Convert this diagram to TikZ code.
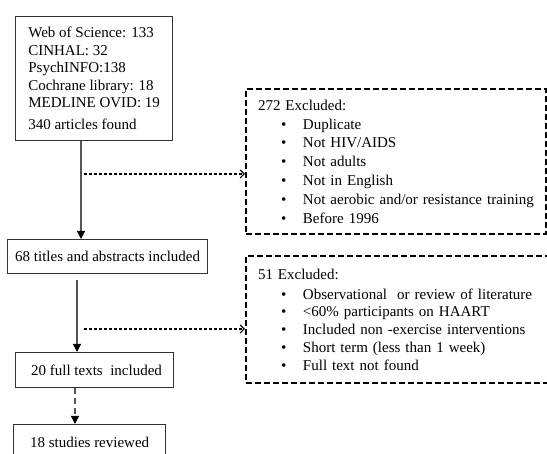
\documentclass[tikz,border=0pt]{standalone}
\usepackage{fontspec}
\setmainfont{Liberation Serif}
\usetikzlibrary{arrows.meta, positioning}
\definecolor{boxline}{HTML}{333333}
\definecolor{trunkline}{HTML}{555555}
\tikzset{
  stage/.style={rectangle, draw=boxline, line width=1.3pt, align=center,
                inner sep=0pt, anchor=north west, font=\fontsize{15}{17.5}\selectfont},
  excl/.style={rectangle, draw=black, line width=2pt, dash pattern=on 6pt off 3pt,
               align=left, inner xsep=12pt, inner ysep=0pt, anchor=north west},
  flow/.style={-{Triangle[length=8pt, width=8pt, color=black]}, line width=1.2pt, draw=trunkline},
  side/.style={-{Straight Barb[length=4pt, width=8pt]}, line width=1.1pt, draw=black,
               dash pattern=on 3pt off 2pt},
}
\newcommand{\itm}[1]{\hspace*{23pt}\makebox[22pt][l]{\textbullet}#1}

\begin{document}
\begin{tikzpicture}[x=1pt, y=-1pt]
\useasboundingbox (0,0) rectangle (547,454);
\clip (0,0) rectangle (547,454);

% Search results
\node[stage, align=left, minimum width=157pt, minimum height=124pt]
  (sources) at (15,16) {Web of Science: 133\\CINHAL: 32\\PsychINFO:138\\Cochrane library: 18\\
  MEDLINE OVID: 19\\[4.5pt]340 articles found};

% Screening stages
\node[stage, minimum width=200pt, minimum height=34pt] (titles) at (7,239)
  {68 titles and abstracts included};
\node[stage, minimum width=158pt, minimum height=35pt] (fulltexts) at (15,352)
  {\ 20 full texts\ \ included};
\node[stage, minimum width=152pt, minimum height=36pt] (reviewed) at (13,424)
  {18 studies reviewed};

% Exclusions
\node[excl, text width=276pt, minimum height=145pt, font=\fontsize{15}{18.8}\selectfont]
  (excluded1) at (245,88) {272 Excluded:\\ \itm{Duplicate}\\ \itm{Not HIV/AIDS}\\
  \itm{Not adults}\\ \itm{Not in English}\\ \itm{Not aerobic and/or resistance training}\\
  \itm{Before 1996}};
\node[excl, text width=290pt, minimum height=127pt, font=\fontsize{15}{17.7}\selectfont]
  (excluded2) at (245,255) {51 Excluded:\\[2.3pt] \itm{Observational\ \ or review of literature}\\
  \itm{<60\% participants on HAART}\\ \itm{Included non\ -exercise interventions}\\
  \itm{Short term (less than 1 week)}\\ \itm{Full text not found}};

% Connectors
\coordinate (trunkA) at (81,0);
\coordinate (trunkB) at (77,0);
\coordinate (trunkC) at (75,0);
\coordinate (branchA) at (84,174);
\coordinate (branchB) at (84,329);

\draw[flow] (trunkA |- sources.south) -- (trunkA |- titles.north);
\draw[side] (branchA) -- (branchA -| excluded1.west);
\draw[flow, shorten <=6pt] (trunkB |- titles.south) -- (trunkB |- fulltexts.north);
\draw[side] (branchB) -- (branchB -| excluded2.west);
\draw[flow, dash pattern=on 6pt off 4pt] (trunkC |- fulltexts.south) -- (trunkC |- reviewed.north);

\end{tikzpicture}
\end{document}
